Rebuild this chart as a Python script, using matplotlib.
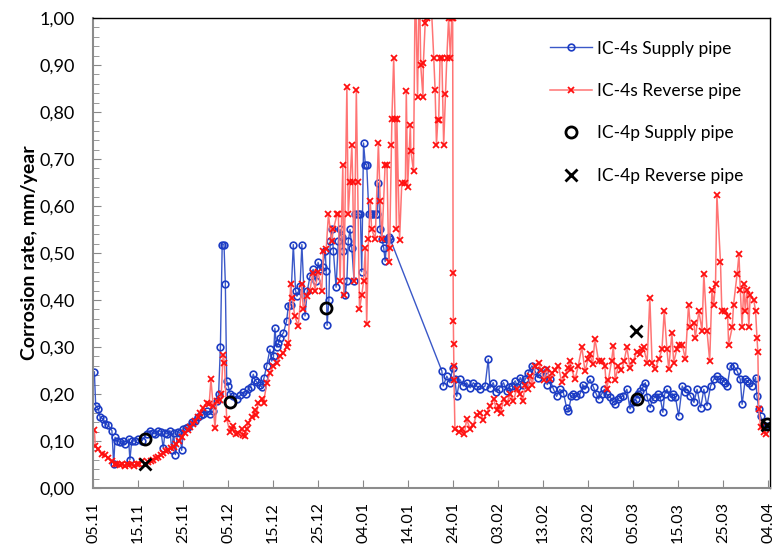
import numpy as np
import matplotlib
matplotlib.use('Agg')
import matplotlib.pyplot as plt
from matplotlib.ticker import MultipleLocator, FuncFormatter

# days counted from 05.11
tick_days = list(range(0, 151, 10))
tick_labels = ['05.11', '15.11', '25.11', '05.12', '15.12', '25.12', '04.01', '14.01',
               '24.01', '03.02', '13.02', '23.02', '05.03', '15.03', '25.03', '04.04']

supply_day = [0.3, 0.6, 1.2, 1.6, 2.3, 2.7, 3.4, 4.2, 4.6, 4.9, 5.3, 6.0, 6.7, 7.1, 7.9, 8.2, 8.6, 9.3, 10.1, 10.8,
              11.9, 12.7, 13.3, 13.8, 14.5, 15.1, 15.6, 16.0, 16.4, 17.1, 17.5, 17.9, 18.3, 18.8, 19.3, 19.7, 20.1, 20.6,
              21.2, 21.9, 22.7, 23.4, 24.0, 24.5, 25.3, 26.0, 26.7, 27.5, 27.9, 28.3, 28.7, 29.1, 29.4, 29.7, 30.0,
              30.5, 31.2, 31.9, 32.7, 33.4, 34.0, 34.5, 35.0, 35.6, 36.0, 36.4, 37.0, 37.5, 38.0, 38.6, 39.3, 39.7,
              40.1, 40.4, 40.8, 41.2, 41.5, 42.3, 43.0, 43.4, 43.9, 44.5, 45.0, 45.3, 46.0, 46.4, 47.1, 47.6, 48.2,
              48.9, 49.5, 50.0, 50.4, 51.0, 51.6, 51.8, 52.0, 52.4, 52.7, 53.1, 53.4, 54.0, 54.5, 54.9, 55.3, 55.6,
              56.0, 56.4, 56.7, 57.1, 57.5, 58.0, 58.3, 58.8, 59.4, 59.7, 60.1, 60.5, 60.8, 61.3, 61.8, 62.3, 62.8,
              63.1, 63.4, 63.8, 64.2, 64.6, 64.9, 65.3, 65.7, 66.0,
              77.5, 77.8, 78.6, 79.3, 79.9, 80.4, 80.8, 81.5, 82.3, 83.0, 83.8, 84.5, 85.2, 86.0, 87.1, 87.8, 88.2,
              88.9, 89.5, 90.1, 91.2, 91.9, 92.5, 93.0, 93.8, 94.3, 94.9, 95.5, 96.0, 96.7, 97.5, 98.2, 98.8, 99.3,
              100.4, 100.9, 101.5, 102.3, 103.0, 103.7, 104.5, 105.2, 105.6, 106.3, 106.7, 107.4, 108.2, 108.8,
              109.3, 110.4, 111.2, 111.8, 112.3, 113.0, 113.6, 114.1, 114.9, 115.5, 116.0, 116.6, 117.1, 117.8,
              118.6, 119.3, 120.0, 120.6, 121.0, 121.6, 122.2, 122.7, 123.1, 123.8, 124.3, 124.9, 125.5, 126.0,
              126.6, 127.0, 127.5, 128.3, 128.8, 129.4, 130.1, 130.9, 131.5, 132.0, 132.7, 133.5, 134.2, 135.0,
              135.7, 136.4, 137.2, 137.9, 138.6, 139.4, 140.0, 140.5, 140.9, 141.6, 142.3, 143.1, 143.8, 144.2,
              144.9, 145.3, 145.7, 146.4, 147.2, 147.5, 147.9, 148.3, 149.0, 149.8]
supply_rate = [0.247, 0.175, 0.168, 0.15, 0.147, 0.136, 0.133, 0.122, 0.05, 0.108, 0.1, 0.097, 0.1, 0.093, 0.104, 0.06,
               0.1, 0.1, 0.104, 0.1, 0.115, 0.122, 0.118, 0.115, 0.122, 0.12, 0.085, 0.118, 0.115, 0.122, 0.08, 0.118,
               0.071, 0.12, 0.118, 0.08, 0.125, 0.128, 0.13, 0.14, 0.143, 0.15, 0.155, 0.157, 0.164, 0.157, 0.164,
               0.185, 0.2, 0.30, 0.518, 0.518, 0.435, 0.228, 0.218, 0.2, 0.195, 0.19, 0.197, 0.204, 0.2, 0.21, 0.215,
               0.242, 0.23, 0.225, 0.22, 0.214, 0.235, 0.26, 0.295, 0.27, 0.28, 0.34, 0.3, 0.308, 0.32, 0.33, 0.355,
               0.387, 0.39, 0.518, 0.42, 0.408, 0.43, 0.518, 0.366, 0.419, 0.45, 0.465, 0.44, 0.48, 0.465, 0.47,
               0.504, 0.462, 0.346, 0.4, 0.525, 0.55, 0.504, 0.427, 0.525, 0.55, 0.535, 0.504, 0.41, 0.44, 0.525,
               0.55, 0.51, 0.44, 0.582, 0.582, 0.582, 0.46, 0.734, 0.688, 0.688, 0.582, 0.582, 0.582, 0.582, 0.582,
               0.649, 0.55, 0.53, 0.51, 0.482, 0.53, 0.535, 0.53,
               0.249, 0.217, 0.238, 0.224, 0.256, 0.231, 0.195, 0.231, 0.217, 0.224, 0.213, 0.224, 0.217, 0.21,
               0.217, 0.274, 0.213, 0.224, 0.205, 0.21, 0.224, 0.206, 0.215, 0.217, 0.228, 0.215, 0.235, 0.22, 0.231,
               0.245, 0.26, 0.249, 0.235, 0.242, 0.252, 0.22, 0.231, 0.21, 0.195, 0.21, 0.203, 0.171, 0.164, 0.196,
               0.2, 0.196, 0.2, 0.22, 0.21, 0.231, 0.214, 0.2, 0.189, 0.2, 0.21, 0.2, 0.193, 0.185, 0.178, 0.19,
               0.193, 0.196, 0.21, 0.168, 0.182, 0.19, 0.2, 0.207, 0.215, 0.224, 0.193, 0.171, 0.19, 0.193, 0.2,
               0.193, 0.161, 0.2, 0.21, 0.193, 0.2, 0.193, 0.153, 0.217, 0.205, 0.21, 0.196, 0.182, 0.21, 0.171,
               0.21, 0.175, 0.217, 0.231, 0.238, 0.231, 0.228, 0.224, 0.217, 0.26, 0.26, 0.249, 0.231, 0.178,
               0.231, 0.228, 0.224, 0.217, 0.235, 0.196, 0.168, 0.153, 0.132, 0.132]

reverse_day = [0.3, 0.5, 1.2, 1.9, 2.7, 3.4, 4.2, 4.8, 5.3, 5.9, 6.4, 7.0, 7.5, 8.1, 8.6, 9.2, 9.7, 10.2, 10.8, 11.5,
               12.3, 12.9, 13.4, 14.0, 14.5, 15.1, 15.6, 16.2, 16.7, 17.3, 17.9, 18.5, 19.0, 19.7, 20.4, 21.0, 21.6,
               22.2, 22.7, 23.3, 23.8, 24.5, 25.3, 25.8, 26.2, 26.7, 27.1, 27.5, 28.2, 28.5, 28.9, 29.2, 29.7, 30.4,
               30.8, 31.2, 31.8, 32.3, 33.0, 33.4, 33.8, 34.2, 34.5, 35.3, 36.0, 36.3, 36.7, 37.5, 37.9, 38.6, 39.3,
               40.0, 40.8, 41.5, 42.3, 43.0, 43.4, 43.9, 44.3, 44.8, 45.6, 46.4, 46.7, 47.5, 48.2, 48.8, 49.3, 50.0,
               50.8, 51.2, 51.8, 52.3, 53.0, 53.4, 54.2, 54.5, 54.9, 55.5, 55.7, 56.4, 56.7, 57.1, 57.5, 57.7, 58.0,
               58.5, 58.8, 59.2, 59.7, 60.1, 60.5, 60.8, 61.2, 61.6, 61.9, 62.7, 63.4, 63.8, 64.2, 64.9, 65.3, 65.7,
               65.9, 66.3, 66.4, 66.8, 67.1, 67.4, 67.5, 68.1, 68.6, 69.4, 69.6, 69.9, 70.5, 70.6, 71.2, 71.6, 72.1,
               72.5, 72.8, 73.3, 73.4, 73.8, 74.2, 74.8, 75.7, 76.0, 76.3, 76.6, 76.8, 77.1, 77.5, 77.9, 78.3, 78.6,
               79.0, 79.4, 79.7, 79.9, 80.0, 80.05, 80.1, 80.15, 80.2, 80.4, 81.2, 81.9, 82.5, 83.0, 83.8, 84.5,
               85.2, 86.0, 86.7, 87.5, 88.2, 89.0, 89.7, 90.1, 90.6, 91.2, 91.9, 92.7, 93.4, 94.1, 94.9, 95.5, 96.0,
               96.7, 97.1, 97.6, 98.2, 99.0, 99.6, 100.1, 100.8, 101.5, 102.0, 102.6, 103.4, 104.1, 104.9, 105.5,
               106.0, 106.3, 107.1, 107.8, 108.6, 109.3, 110.0, 110.4, 111.0, 111.5, 112.3, 113.0, 113.7, 114.1,
               114.5, 115.2, 115.6, 116.0, 116.7, 117.4, 118.0, 118.6, 119.3, 120.0, 120.8, 121.5, 122.0, 122.3,
               123.1, 123.7, 124.2, 124.9, 125.7, 126.4, 126.9, 127.5, 127.9, 128.6, 129.0, 129.7, 130.1, 130.9,
               131.6, 132.3, 132.7, 133.5, 133.8, 134.6, 135.3, 135.7, 136.4, 137.0, 137.5, 137.9, 138.3, 138.6,
               139.4, 139.7, 140.5, 141.0, 141.2, 142.0, 142.3, 143.1, 143.5, 143.8, 144.2, 144.6, 144.9, 145.3,
               145.7, 146.0, 146.8, 147.2, 147.5, 147.7, 147.9, 148.3, 149.0, 149.6]
reverse_rate = [0.124, 0.09, 0.083, 0.073, 0.07, 0.064, 0.057, 0.05, 0.052, 0.048, 0.05, 0.047, 0.052, 0.048, 0.05,
                0.046, 0.052, 0.05, 0.057, 0.052, 0.055, 0.058, 0.06, 0.063, 0.067, 0.07, 0.074, 0.078, 0.081, 0.085,
                0.088, 0.093, 0.099, 0.108, 0.118, 0.124, 0.13, 0.137, 0.143, 0.152, 0.16, 0.171, 0.181, 0.178,
                0.231, 0.174, 0.128, 0.185, 0.188, 0.2, 0.284, 0.267, 0.147, 0.12, 0.125, 0.132, 0.115, 0.118, 0.125,
                0.112, 0.11, 0.125, 0.139, 0.15, 0.167, 0.155, 0.181, 0.19, 0.181, 0.224, 0.245, 0.259, 0.266, 0.28,
                0.287, 0.301, 0.308, 0.433, 0.404, 0.366, 0.345, 0.433, 0.38, 0.408, 0.42, 0.457, 0.42, 0.46, 0.42,
                0.504, 0.508, 0.582, 0.525, 0.55, 0.582, 0.582, 0.44, 0.688, 0.41, 0.853, 0.582, 0.65, 0.73, 0.65,
                0.44, 0.846, 0.65, 0.38, 0.41, 0.44, 0.51, 0.348, 0.53, 0.61, 0.55, 0.53, 0.734, 0.61, 0.53, 0.688,
                0.688, 0.48, 0.51, 0.73, 0.785, 0.915, 0.785, 0.55, 0.785, 0.527, 0.649, 0.649, 0.845, 0.64, 0.773,
                0.718, 0.674, 1.1, 0.832, 1.1, 0.9, 0.832, 0.905, 0.99, 1.0, 1.1, 0.915, 0.847, 0.73, 0.782, 0.782,
                0.915, 0.915, 0.73, 0.838, 0.915, 1.0, 0.915, 1.0, 1.0, 0.458, 0.355, 0.306, 0.26, 0.23, 0.125, 0.12,
                0.125, 0.115, 0.146, 0.125, 0.135, 0.155, 0.16, 0.145, 0.16, 0.175, 0.189, 0.165, 0.175, 0.16, 0.19,
                0.18, 0.2, 0.185, 0.21, 0.2, 0.185, 0.22, 0.21, 0.238, 0.22, 0.26, 0.265, 0.25, 0.23, 0.253, 0.231,
                0.245, 0.25, 0.26, 0.225, 0.24, 0.255, 0.27, 0.253, 0.231, 0.26, 0.3, 0.248, 0.275, 0.285, 0.263,
                0.318, 0.27, 0.27, 0.26, 0.21, 0.23, 0.27, 0.302, 0.23, 0.26, 0.25, 0.27, 0.3, 0.256, 0.27, 0.29,
                0.285, 0.295, 0.3, 0.267, 0.405, 0.267, 0.253, 0.274, 0.295, 0.376, 0.295, 0.253, 0.33, 0.267, 0.295,
                0.305, 0.305, 0.274, 0.39, 0.342, 0.35, 0.32, 0.376, 0.335, 0.456, 0.335, 0.27, 0.422, 0.39, 0.435,
                0.624, 0.48, 0.376, 0.376, 0.365, 0.305, 0.342, 0.39, 0.456, 0.497, 0.422, 0.342, 0.435, 0.376,
                0.422, 0.342, 0.41, 0.4, 0.376, 0.32, 0.29, 0.168, 0.13, 0.12, 0.115]

p_supply_day = [11.6, 30.4, 51.7, 120.8, 149.8]
p_supply_rate = [0.104, 0.182, 0.382, 0.189, 0.136]
p_reverse_day = [11.6, 120.7, 149.8]
p_reverse_rate = [0.051, 0.335, 0.135]

plt.rcParams['font.family'] = ['Lato', 'DejaVu Sans']

fig = plt.figure(figsize=(7.77, 5.45), dpi=100)
ax = fig.add_axes([0.1197, 0.1046, 0.8713, 0.8624])

ax.plot(supply_day, supply_rate, '-', color='#3a58c8', lw=1.0, marker='o', ms=4.8,
        mfc='none', mec='#1c3cc4', mew=1.2, label='IC-4s Supply pipe')
ax.plot(reverse_day, reverse_rate, '-', color='#ff7474', lw=1.1, marker='x', ms=4.2,
        mec='#ff1010', mew=1.3, label='IC-4s Reverse pipe')
ax.plot(p_supply_day, p_supply_rate, 'o', ms=8, mfc='none', mec='black', mew=2.0,
        label='IC-4p Supply pipe', zorder=5)
ax.plot(p_reverse_day, p_reverse_rate, 'x', ms=8, mec='black', mew=2.0,
        label='IC-4p Reverse pipe', zorder=5)

ax.set_xlim(0, 150.4)
ax.set_ylim(0, 1.0)
ax.set_xticks(tick_days)
ax.set_xticklabels(tick_labels, rotation=90)
ax.yaxis.set_major_locator(MultipleLocator(0.1))
ax.yaxis.set_minor_locator(MultipleLocator(0.02))
ax.yaxis.set_major_formatter(FuncFormatter(lambda v, p: ('%.2f' % v).replace('.', ',')))
ax.tick_params(axis='y', which='major', direction='in', length=6, color='#888888', labelsize=13, pad=13)
ax.tick_params(axis='y', which='minor', direction='in', length=4, color='#888888')
ax.tick_params(axis='x', direction='in', length=6, color='#888888', labelsize=11.5, pad=10)

for side in ['left', 'bottom']:
    ax.spines[side].set_color('#8c8c8c')
    ax.spines[side].set_linewidth(1.5)
for side in ['top', 'right']:
    ax.spines[side].set_color('black')
    ax.spines[side].set_linewidth(1.0)

ax.set_ylabel('Corrosion rate, mm/year', fontsize=14, fontweight='bold', labelpad=1)

ax.legend(loc='upper left', bbox_to_anchor=(0.675, 0.952), frameon=False, fontsize=12.5,
          handlelength=2.4, handletextpad=0.3, labelspacing=1.52, borderpad=0, borderaxespad=0)

plt.savefig('out.png', dpi=100)
